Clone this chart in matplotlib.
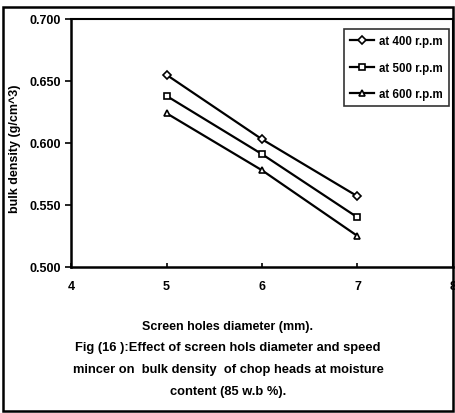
import matplotlib
matplotlib.use("Agg")
import matplotlib.pyplot as plt
from matplotlib.patches import Rectangle

x = [5, 6, 7]
rpm400 = [0.655, 0.603, 0.557]
rpm500 = [0.638, 0.591, 0.540]
rpm600 = [0.624, 0.578, 0.525]
labels = ["at 400 r.p.m", "at 500 r.p.m", "at 600 r.p.m"]
markers = ["D", "s", "^"]
xticks = [4, 5, 6, 7, 8]
yticks = [0.500, 0.550, 0.600, 0.650, 0.700]

plt.rcParams['font.family'] = ['Liberation Sans', 'DejaVu Sans']
plt.rcParams['font.weight'] = 'bold'

fig = plt.figure(figsize=(4.56, 4.14), dpi=100)
W, H = 456, 414
ax = fig.add_axes([71 / W, 1 - 268 / H, (453 - 71) / W, (268 - 20) / H])

for ys, lab, m in zip([rpm400, rpm500, rpm600], labels, markers):
    ax.plot(x, ys, color='black', lw=1.6, marker=m, ms=5 if m != "D" else 4.5,
            mfc='white', mec='black', mew=1.2, label=lab)

ax.set_xlim(4, 8)
ax.set_ylim(0.5, 0.7)
ax.set_xticks(xticks)
ax.set_yticks(yticks)
ax.set_yticklabels([f"{v:.3f}" for v in yticks], fontsize=9, fontweight='bold')
ax.set_xticklabels([str(v) for v in xticks], fontsize=9, fontweight='bold')
ax.tick_params(axis='y', direction='out', length=4, width=1.2, pad=3)
ax.tick_params(axis='x', direction='in', length=3, width=1.2, pad=9)
for s in ['left', 'bottom']:
    ax.spines[s].set_linewidth(1.8)
for s in ['top', 'right']:
    ax.spines[s].set_linewidth(1.5)

ax.set_ylabel("bulk density (g/cm^3)", fontsize=9, fontweight='bold')
ax.yaxis.set_label_coords(-0.131, 0.48)
ax.set_xlabel("Screen holes diameter (mm).", fontsize=9, fontweight='bold')
ax.xaxis.set_label_coords(0.41, -0.212)

leg = ax.legend(loc='upper right', fontsize=8.3, frameon=True, fancybox=False,
                edgecolor='black', handlelength=2.1, borderpad=0.55, labelspacing=1.25,
                handletextpad=0.4, borderaxespad=0.0, bbox_to_anchor=(0.99, 0.96))
leg.get_frame().set_linewidth(1.2)
for t in leg.get_texts():
    t.set_fontweight('bold')

fig.text(0.5, 1 - 342 / H, "Fig (16 ):Effect of screen hols diameter and speed\nmincer on  bulk density  of chop heads at moisture\ncontent (85 w.b %).",
         ha='center', va='top', fontsize=9.3, fontweight='bold', linespacing=2.12)

fig.patches.append(Rectangle((3 / W, 2 / H), (453 - 3) / W, (409 - 5) / H,
                             transform=fig.transFigure, fill=False, lw=1.8, ec='black'))

fig.savefig("out.png", dpi=100)
